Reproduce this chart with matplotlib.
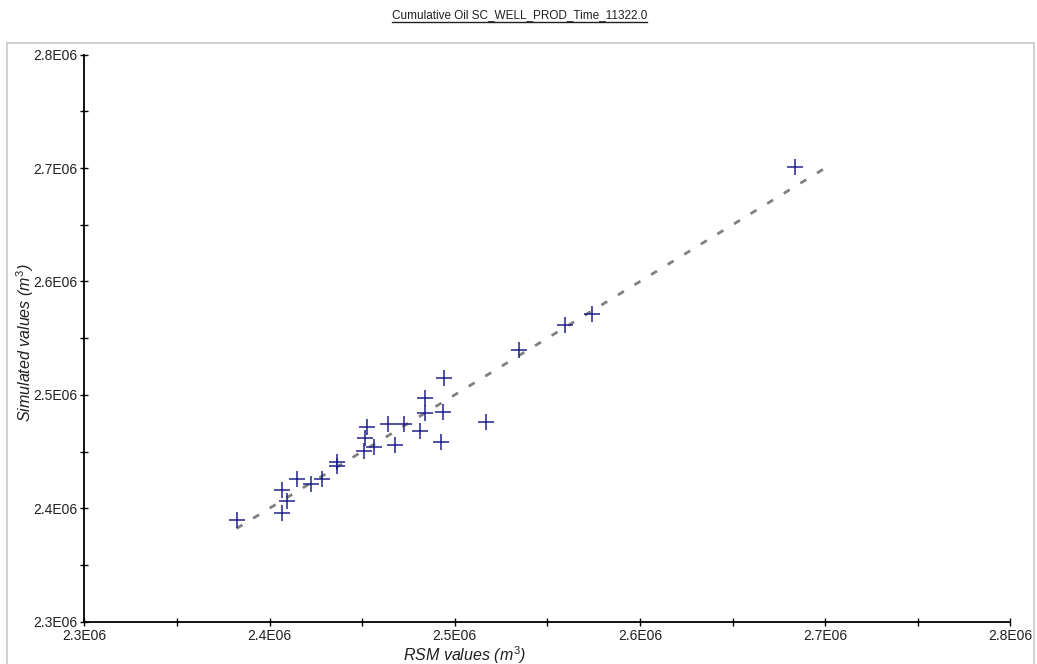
import matplotlib

matplotlib.use("Agg")
import matplotlib.pyplot as plt
from matplotlib.patches import Rectangle
from matplotlib.lines import Line2D
from matplotlib.ticker import MultipleLocator, FuncFormatter

plt.rcParams.update({
    "font.family": ["Liberation Sans", "DejaVu Sans"],
    "font.size": 10,
    "mathtext.fontset": "custom",
    "mathtext.it": "Liberation Sans:italic",
    "mathtext.rm": "Liberation Sans",
})

# RSM predicted vs simulated cumulative oil (units of 1E06 m3)
rsm = [2.3822, 2.4065, 2.4093, 2.4070, 2.4148, 2.4224, 2.4283, 2.4362, 2.4362,
       2.4510, 2.4564, 2.4676, 2.4517, 2.4525, 2.4638, 2.4727, 2.4813, 2.4927,
       2.4837, 2.4937, 2.4840, 2.5171, 2.4942, 2.5346, 2.5594, 2.5744, 2.6837]
sim = [2.3896, 2.3955, 2.4063, 2.4165, 2.4257, 2.4216, 2.4257, 2.4410, 2.4372,
       2.4508, 2.4539, 2.4561, 2.4623, 2.4718, 2.4742, 2.4742, 2.4686, 2.4583,
       2.4836, 2.4845, 2.4977, 2.4757, 2.5152, 2.5394, 2.5614, 2.5711, 2.7009]
rsm = [v * 1e6 for v in rsm]
sim = [v * 1e6 for v in sim]
lo, hi = 2.3e6, 2.8e6

W, H = 1037, 664
fig = plt.figure(figsize=(W / 100, H / 100), dpi=100)
fig.patches.append(Rectangle((7 / W, -0.01), 1027 / W, 1.01 - 43 / H,
                             transform=fig.transFigure, fill=False,
                             edgecolor="#c8c8c8", lw=1.2))
ax = fig.add_axes([84.3 / W, 1 - 621.7 / H, 926 / W, 567 / H])

# 1:1 reference line spanning the data
a = min(min(rsm), min(sim))
b = max(max(rsm), max(sim))
ax.plot([a, b], [a, b], color="#808080", lw=2, dashes=(2.5, 4.5))
ax.plot(rsm, sim, "+", color="#22228a", ms=12, mew=1.1, ls="none")

ax.set_xlim(lo, hi)
ax.set_ylim(lo, hi)
for s in ("top", "right"):
    ax.spines[s].set_visible(False)
for s in ("left", "bottom"):
    ax.spines[s].set_linewidth(1.3)

fmt = FuncFormatter(lambda v, p: f"{v / 1e6:.1f}E06")
for axis in (ax.xaxis, ax.yaxis):
    axis.set_major_locator(MultipleLocator(1e5))
    axis.set_minor_locator(MultipleLocator(5e4))
    axis.set_major_formatter(fmt)
ax.tick_params(which="both", direction="inout", length=6, width=1, colors="black",
               labelsize=10)
ax.tick_params(axis="y", pad=2, labelcolor="#202020")
ax.tick_params(axis="x", pad=2, labelcolor="#202020")

# axis titles placed where the original tool puts them
fig.text(465 / W, 1 - 655 / H, "RSM values ($m^3$)", fontstyle="italic",
         fontsize=11.5, color="#202020", ha="center", va="center")
fig.text(25 / W, 1 - 343 / H, "Simulated values ($m^3$)", fontstyle="italic",
         fontsize=11.5, color="#202020", ha="center", va="center", rotation=90)

title = fig.text(0.501, 1 - 15 / H, "Cumulative Oil SC_WELL_PROD_Time_11322.0",
                 ha="center", va="center", fontsize=8.5, color="#202020")
fig.canvas.draw()
bb = title.get_window_extent().transformed(fig.transFigure.inverted())
fig.lines.append(Line2D([bb.x0, bb.x1], [bb.y0 - 0.002, bb.y0 - 0.002],
                        transform=fig.transFigure, color="#202020", lw=1))

fig.savefig("out.png", dpi=100)
